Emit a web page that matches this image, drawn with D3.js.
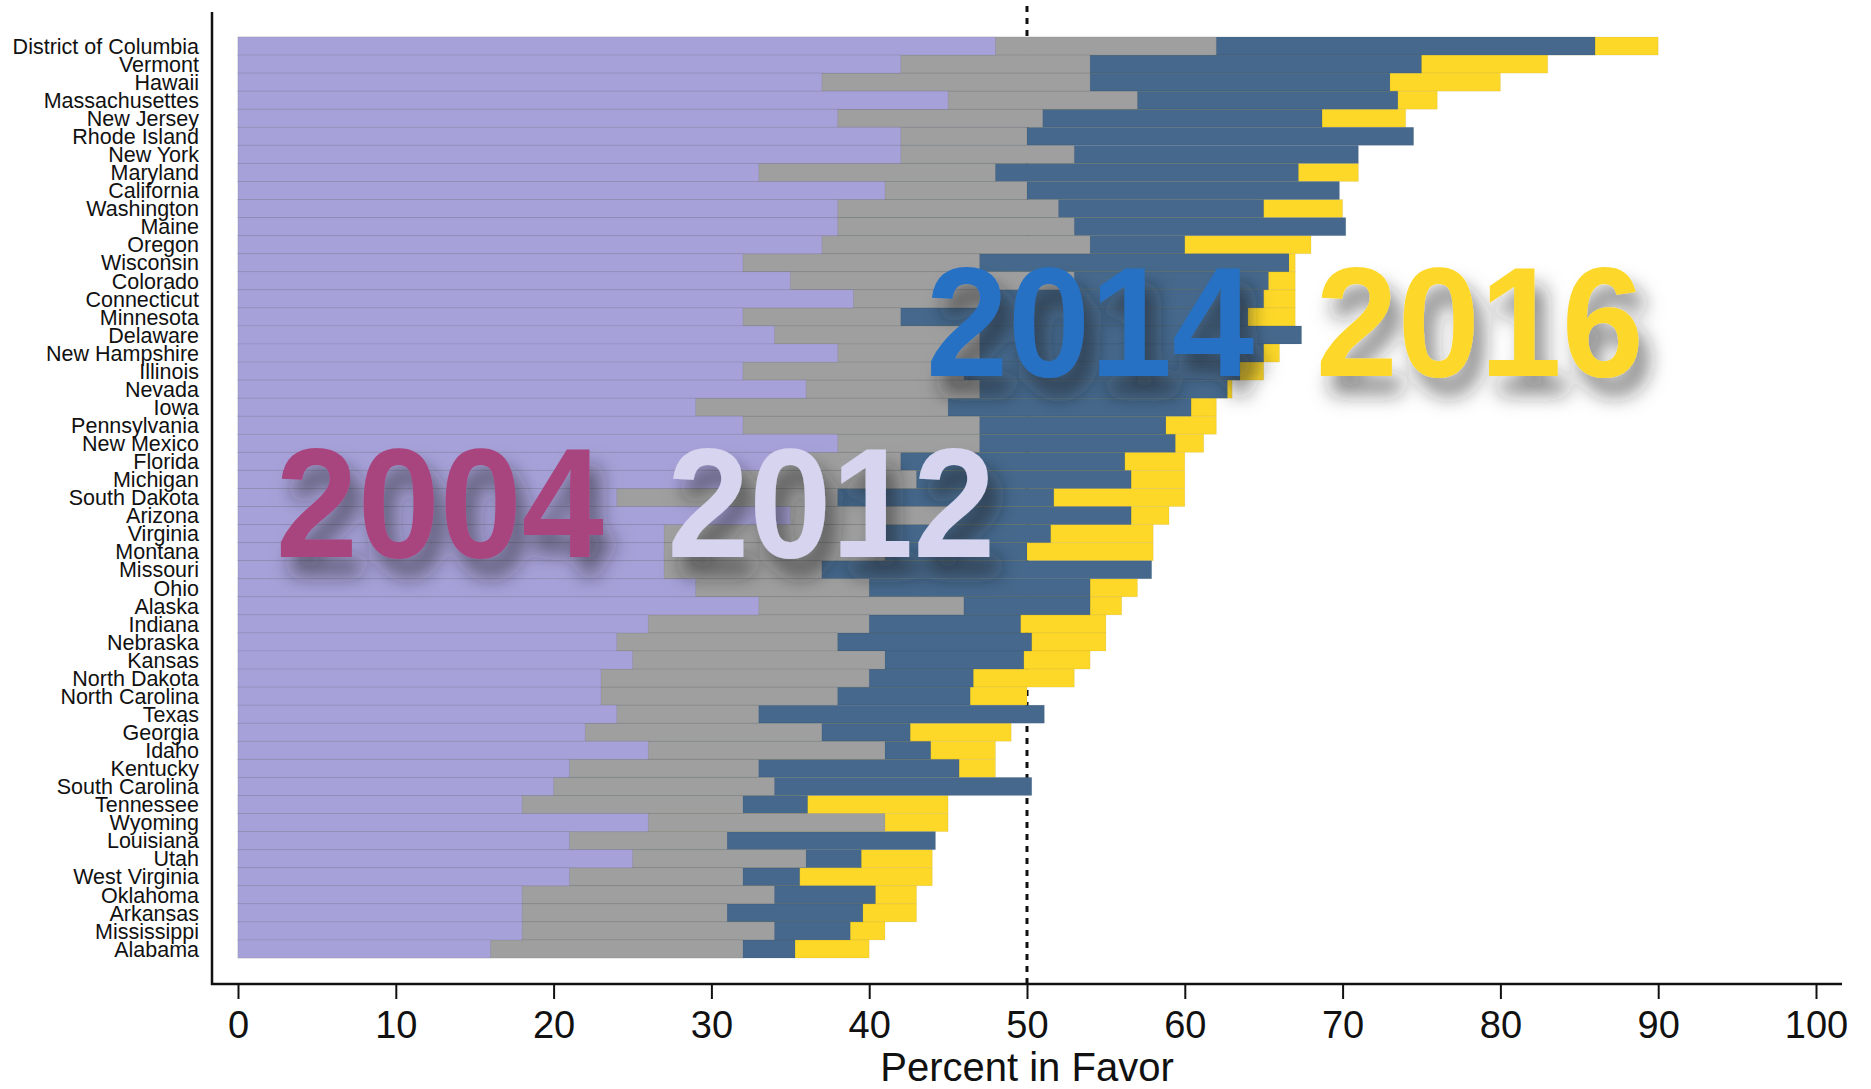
<!DOCTYPE html>
<html>
<head>
<meta charset="utf-8">
<script src="https://cdn.jsdelivr.net/npm/d3@7"></script>
<style>
  body { margin: 0; background: #fff; }
  text { font-family: "Liberation Sans", Arial, Helvetica, sans-serif; }
</style>
</head>
<body>
<script>
// state order, top to bottom
const states = ["District of Columbia", "Vermont", "Hawaii", "Massachusettes", "New Jersey", "Rhode Island",
    "New York", "Maryland", "California", "Washington", "Maine", "Oregon", "Wisconsin", "Colorado",
    "Connecticut", "Minnesota", "Delaware", "New Hampshire", "Illinois", "Nevada", "Iowa", "Pennsylvania",
    "New Mexico", "Florida", "Michigan", "South Dakota", "Arizona", "Virginia", "Montana", "Missouri",
    "Ohio", "Alaska", "Indiana", "Nebraska", "Kansas", "North Dakota", "North Carolina", "Texas",
    "Georgia", "Idaho", "Kentucky", "South Carolina", "Tennessee", "Wyoming", "Louisiana", "Utah",
    "West Virginia", "Oklahoma", "Arkansas", "Mississippi", "Alabama"]

// percent in favor by year (null = hidden behind another year's bar)
const pct2004 = [48, 42, 37, 45, 38, 42, 42, 33, 41, 38, 38, 37, 32, 35, 39, 32, 34, 38, 32, 36, 29, 32,
    38, 34, 31, 24, 35, 27, 27, 27, 29, 33, 26, 24, 25, 23, 23, 24, 22, 26, 21, 20, 18, 26, 21, 25,
    21, 18, 18, 18, 16]
const pct2012 = [62, 54, 54, 57, 51, 50, 53, 48, 50, 52, 53, 54, 47, 53, 48, 42, 47, 47, 46, 47, 45, 47,
    47, 42, 43, 38, 45, 41, 41, 37, 40, 46, 40, 38, 41, 40, 38, 33, 37, 41, 33, 34, 32, 41, 31, 36,
    32, 34, 31, 34, 32]
const pct2014 = [86, 75, 73, 73.5, 68.7, 74.5, 71, 67.2, 69.8, 65, 70.2, 60, 66.6, 65.3, 65, 64, 67.4, 65,
    63.5, 62.7, 60.4, 58.8, 59.4, 56.2, 56.6, 51.7, 56.6, 51.5, 50, 57.9, 54, 54, 49.6, 50.3, 49.8,
    46.6, 46.4, 51.1, 42.6, 43.9, 45.7, 50.3, 36.1, null, 44.2, 39.5, 35.6, 40.4, 39.6, 38.8, 35.3]
const pct2016 = [90, 83, 80, 76, 74, null, null, 71, null, 70, null, 68, 67, 67, 67, 67, null, 66, 65, 63,
    62, 62, 61.2, 60, 60, 60, 59, 58, 58, null, 57, 56, 55, 55, 54, 53, 50, null, 49, 48, 48, null,
    45, 45, null, 44, 44, 43, 43, 41, 40]

const years = ["2004", "2012", "2014", "2016"]
const yearColors = ["#a6a1d8", "#9f9f9f", "#45688c", "#fdd829"]
const labelColors = ["#a8457f", "#d6d4ef", "#2571c4", "#fdd829"]
// where the big year captions sit: [percent, state row]
const labelSpots = [[2.4, "Montana"], [27.2, "Montana"], [43.6, "Illinois"], [68.3, "Illinois"]]
const xTicks = [0, 10, 20, 30, 40, 50, 60, 70, 80, 90, 100]

const W = 1871, H = 1089

const svg = d3.select("body").append("svg")
    .attr("width", W)
    .attr("height", H)

const x = d3.scaleLinear().domain([0, 100]).range([238, 1816])
const y = d3.scaleBand().domain(states).range([37, 958])

const defs = svg.append("defs")
defs.append("filter")
    .attr("id", "shadow")
    .attr("x", "-20%").attr("y", "-30%")
    .attr("width", "150%").attr("height", "190%")
    .append("feDropShadow")
    .attr("dx", 10)
    .attr("dy", 18)
    .attr("stdDeviation", 10)
    .attr("flood-color", "#222")
    .attr("flood-opacity", 0.55)

// 50% reference line sits behind the bars
svg.append("line")
    .attr("x1", x(50)).attr("x2", x(50))
    .attr("y1", 6).attr("y2", 984)
    .attr("stroke", "#111")
    .attr("stroke-width", 3)
    .attr("stroke-dasharray", "6,6")

// latest year at the back, 2004 on top
const series = [pct2004, pct2012, pct2014, pct2016]
for (let k = series.length - 1; k >= 0; k--) {
    const rows = states.map((s, i) => ({ state: s, value: series[k][i] }))
        .filter(d => d.value != null)

    svg.append("g")
        .attr("class", "year-" + years[k])
        .selectAll("rect")
        .data(rows)
        .join("rect")
        .attr("x", x(0))
        .attr("y", d => y(d.state))
        .attr("width", d => x(d.value) - x(0))
        .attr("height", y.bandwidth())
        .attr("fill", yearColors[k])
        .attr("stroke", "rgba(0,0,0,0.06)")
        .attr("stroke-width", 1)
}

// state names
svg.append("g")
    .selectAll("text")
    .data(states)
    .join("text")
    .attr("x", 199)
    .attr("y", d => y(d) + y.bandwidth() / 2)
    .attr("dy", "0.36em")
    .attr("text-anchor", "end")
    .attr("font-size", 21.5)
    .attr("fill", "#111")
    .text(d => d)

// axes
svg.append("line")
    .attr("x1", 212).attr("x2", 212)
    .attr("y1", 12).attr("y2", 985)
    .attr("stroke", "#111").attr("stroke-width", 2.5)
svg.append("line")
    .attr("x1", 211).attr("x2", 1842)
    .attr("y1", 984).attr("y2", 984)
    .attr("stroke", "#111").attr("stroke-width", 2.5)

const xAxis = svg.append("g")
    .attr("transform", "translate(0,984)")
    .call(d3.axisBottom(x).tickValues(xTicks).tickSize(15).tickPadding(12))
xAxis.select(".domain").remove()
xAxis.selectAll(".tick line").attr("stroke", "#111").attr("stroke-width", 2)
xAxis.selectAll(".tick text")
    .attr("font-size", 38)
    .attr("font-family", "'Liberation Sans', Arial, sans-serif")
    .attr("fill", "#111")

svg.append("text")
    .attr("x", x(50))
    .attr("y", 1081)
    .attr("text-anchor", "middle")
    .attr("font-size", 40)
    .attr("fill", "#111")
    .text("Percent in Favor")

// big year captions
svg.append("g")
    .selectAll("text")
    .data(years)
    .join("text")
    .attr("x", (d, i) => x(labelSpots[i][0]))
    .attr("y", (d, i) => y(labelSpots[i][1]) + 14)
    .attr("font-size", 156)
    .attr("font-weight", "bold")
    .attr("textLength", 328)
    .attr("lengthAdjust", "spacingAndGlyphs")
    .attr("fill", (d, i) => labelColors[i])
    .attr("filter", "url(#shadow)")
    .text(d => d)
</script>
</body>
</html>
